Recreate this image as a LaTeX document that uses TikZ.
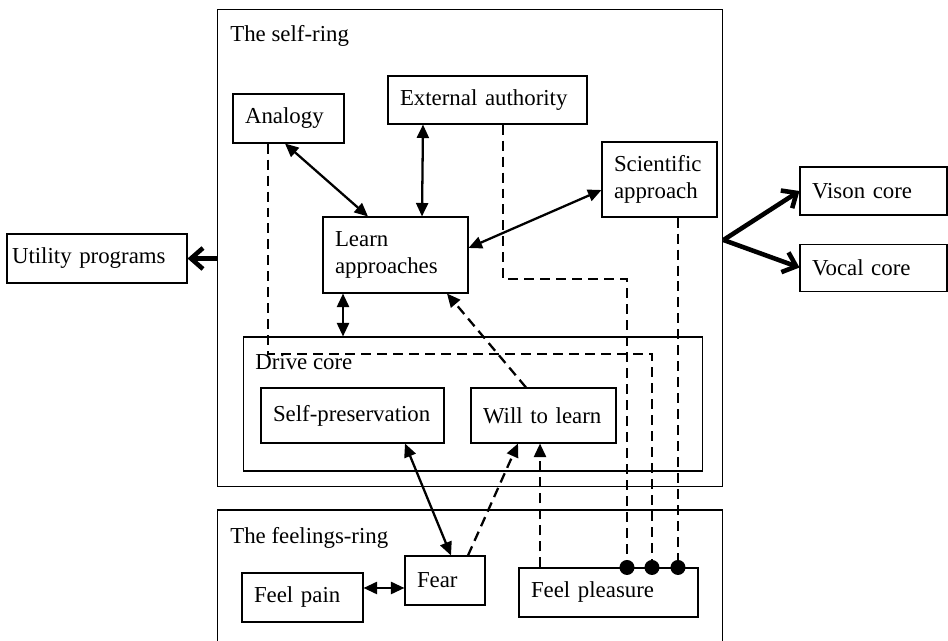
\documentclass[tikz,border=0pt]{standalone}
\usepackage{fontspec}
\setmainfont{Liberation Serif}
\usetikzlibrary{arrows.meta,positioning}

\newcommand{\boxfont}{\fontsize{13}{15.5}\selectfont}

\tikzset{
  box/.style={draw, line width=0.6pt, align=left, inner xsep=0.24cm, inner ysep=0pt, font=\boxfont},
  ring/.style={draw, line width=0.6pt, inner sep=0pt},
  lbl/.style={anchor=base west, inner sep=0pt, font=\boxfont},
  link/.style={line width=1.3pt, {Triangle[length=0.27cm,width=0.24cm]}-{Triangle[length=0.27cm,width=0.24cm]}},
  hint/.style={line width=1.3pt, dash pattern=on 0.2cm off 0.12cm, -{Triangle[length=0.27cm,width=0.24cm]}},
  feed/.style={line width=1.3pt, dash pattern=on 0.2cm off 0.12cm},
  push/.style={line width=2.6pt, -{Straight Barb[length=0.24cm,width=0.42cm]}},
  plug/.style={circle, fill, inner sep=0pt, minimum size=0.3cm}
}

\begin{document}
\begin{tikzpicture}[x=0.02cm,y=-0.02cm]
   \useasboundingbox (0,0) rectangle (948,641);
   \clip (0,0) rectangle (948,641);

   % the two rings and the drive core
   \node[ring, minimum width=10.12cm, minimum height=9.56cm] (selfring) at (470,248) {};
   \node[ring, minimum width=10.12cm, minimum height=3.2cm] (feelring) at (470,590) {};
   \node[ring, minimum width=9.2cm, minimum height=2.68cm] (drive) at (473,404) {};
   \node[lbl] (selflbl) at (230,42) {The self-ring};
   \node[lbl] (feellbl) at (230,544) {The feelings-ring};
   \node[lbl] (drivelbl) at (255,370) {Drive core};

   % self-ring
   \node[box, text width=1.74cm, minimum height=0.98cm] (analogy) at (288.5,118.5) {Analogy};
   \node[box, text width=3.5cm, minimum height=0.96cm] (ext) at (487.5,100) {External authority};
   \node[box, text width=1.82cm, minimum height=1.5cm] (sci) at (659.5,179.5) {Scientific\\approach};
   \node[box, text width=2.42cm, minimum height=1.52cm] (learn) at (395.5,255) {Learn\\approaches};
   \node[box, text width=3.18cm, minimum height=1.1cm] (selfp) at (352.5,415.5) {Self-preservation};
   \node[box, text width=2.42cm, minimum height=1.1cm] (will) at (543.5,415.5) {Will to learn};

   % feelings-ring
   \node[box, text width=1.12cm, minimum height=0.98cm] (fear) at (445,580.5) {Fear};
   \node[box, text width=1.94cm, minimum height=0.98cm] (pain) at (302.5,597.5) {Feel pain};
   \node[box, text width=3.1cm, minimum height=0.98cm] (pleasure) at (608.5,592.5) {Feel pleasure};
   \node[plug] (plga) at ([xshift=0.37cm]pleasure.north) {};
   \node[plug] (plgb) at ([xshift=0.87cm]pleasure.north) {};
   \node[plug] (plgc) at ([xshift=1.39cm]pleasure.north) {};

   % outside
   \node[box, inner xsep=0.1cm, text width=3.4cm, minimum height=0.98cm] (util) at (97,258.5) {Utility programs};
   \node[box, text width=2.46cm, minimum height=0.96cm] (vison) at (873.5,191) {Vison core};
   \node[box, text width=2.46cm, minimum height=0.94cm, below=0.56cm of vison] (vocal) {Vocal core};

   % learning links
   \draw[link] ([xshift=-0.07cm]analogy.south) -- ([xshift=-0.55cm]learn.north);
   \draw[link] ([xshift=-1.29cm]ext.south) -- ([xshift=0.53cm]learn.north);
   \draw[link] ([yshift=-0.21cm]sci.west) -- ([yshift=0.14cm]learn.east);
   \draw[link] ([xshift=-1.05cm]learn.south) -- ([xshift=-1.05cm]learn.south |- drive.north);
   \draw[hint] ([xshift=-0.35cm]will.north) -- ([xshift=1.03cm]learn.south);

   % drives and feelings
   \draw[link] ([xshift=1.05cm]selfp.south) -- ([xshift=0.12cm]fear.north);
   \draw[hint] ([xshift=0.46cm]fear.north) -- ([xshift=-0.51cm]will.south);
   \draw[hint] ([xshift=-1.37cm]pleasure.north) -- ([xshift=-1.37cm]pleasure.north |- will.south);
   \draw[link] ([yshift=-0.15cm]fear.west -| pain.east) -- ([yshift=-0.15cm]fear.west);

   % pleasure feedback
   \coordinate (lvle) at (0,279);
   \coordinate (lvla) at (0,354);
   \draw[feed] ([xshift=-0.41cm]analogy.south) |- (lvla -| plgb) -- (plgb);
   \draw[feed] ([xshift=0.31cm]ext.south) |- (lvle -| plga) -- (plga);
   \draw[feed] (plgc |- sci.south) -- (plgc);

   % outputs of the self-ring
   \draw[push] (util.east -| selfring.west) -- (util.east);
   \draw[push] ([yshift=0.16cm]selfring.east) -- (vison.west);
   \draw[push] ([yshift=0.16cm]selfring.east) -- (vocal.west);
\end{tikzpicture}
\end{document}
